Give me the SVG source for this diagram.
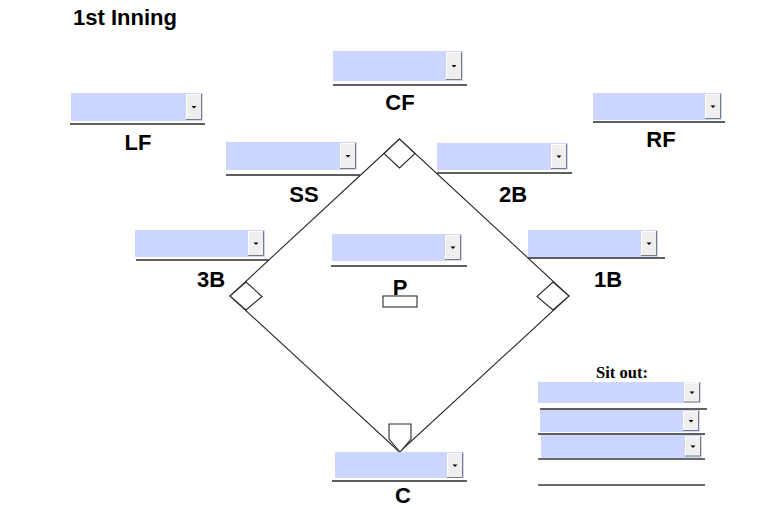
<svg xmlns="http://www.w3.org/2000/svg" xmlns:xlink="http://www.w3.org/1999/xlink" width="777" height="509" viewBox="0 0 777 509">
<style>
.box{fill:#ccd6ff}
.btn{fill:#efefef}
.edge{fill:none;stroke:#7a7a7a;stroke-width:1}
.hi{fill:none;stroke:#ffffff;stroke-width:1}
.arr{fill:#000}
.ul{stroke:#2a2a2a;stroke-width:1.6}
.ul2{stroke:#6a6a6a;stroke-width:1.8}
.lbl{font-family:"Liberation Sans",Arial,sans-serif;font-weight:bold;font-size:22px;fill:#000;text-anchor:middle}
.title{font-family:"Liberation Sans",Arial,sans-serif;font-weight:bold;font-size:22px;fill:#000}
.sit{font-family:"Liberation Serif","Times New Roman",serif;font-weight:bold;font-size:16.5px;fill:#000;text-anchor:middle}
.line{fill:none;stroke:#2a2a2a;stroke-width:1.1}
.base{fill:#fff;stroke:#2a2a2a;stroke-width:1.1}
</style>
<defs>
<g id="b28"><rect class="btn" width="16" height="28"/><path class="hi" d="M0.5 27V0.5H15"/><path class="edge" d="M15.5 0V27.5H0"/><path class="arr" d="M5.5 13h5l-2.5 2.5z"/></g>
<g id="b26"><rect class="btn" width="16" height="26"/><path class="hi" d="M0.5 25V0.5H15"/><path class="edge" d="M15.5 0V25.5H0"/><path class="arr" d="M5.5 12h5l-2.5 2.5z"/></g>
<g id="b25"><rect class="btn" width="16" height="25"/><path class="hi" d="M0.5 24V0.5H15"/><path class="edge" d="M15.5 0V24.5H0"/><path class="arr" d="M5.5 11.5h5l-2.5 2.5z"/></g>
<g id="b20"><rect class="btn" width="16" height="20"/><path class="hi" d="M0.5 19V0.5H15"/><path class="edge" d="M15.5 0V19.5H0"/><path class="arr" d="M5.5 9h5l-2.5 2.5z"/></g>
</defs>
<rect width="777" height="509" fill="#fff"/>
<text class="title" x="73" y="25">1st Inning</text>

<g id="connectors">
<path class="line" d="M399.5 139L230 296L399.5 452L569 296Z"/>
</g>

<g id="base-2B"><path class="base" d="M399.5 139L384 153.5L399.5 168L415 153.5Z"/></g>
<g id="base-3B"><path class="base" d="M230 296L246 282L262 296.5L246 310Z"/></g>
<g id="base-1B"><path class="base" d="M569 296L553 282L537 296.5L553 310Z"/></g>
<g id="home"><path class="base" d="M400 452L389 439V424H411V439Z"/></g>
<g id="rubber"><rect class="base" x="383" y="296" width="34" height="11"/></g>

<g id="LF">
<rect class="box" x="71" y="93" width="132" height="28"/>
<use xlink:href="#b26" x="186" y="94"/>
<line class="ul" x1="70" y1="124" x2="205" y2="124"/>
<text class="lbl" x="138" y="150">LF</text>
</g>
<g id="CF">
<rect class="box" x="333" y="51" width="130" height="30"/>
<use xlink:href="#b28" x="446" y="52"/>
<line class="ul" x1="333" y1="85" x2="467" y2="85"/>
<text class="lbl" x="400" y="110">CF</text>
</g>
<g id="RF">
<rect class="box" x="593" y="93" width="129" height="27"/>
<use xlink:href="#b25" x="705" y="94"/>
<line class="ul" x1="593" y1="122" x2="725" y2="122"/>
<text class="lbl" x="661" y="147">RF</text>
</g>
<g id="SS">
<rect class="box" x="226" y="142" width="131" height="28"/>
<use xlink:href="#b26" x="340" y="143"/>
<line class="ul" x1="226" y1="175" x2="360" y2="175"/>
<text class="lbl" x="304" y="202">SS</text>
</g>
<g id="2B">
<rect class="box" x="437" y="143" width="131" height="27"/>
<use xlink:href="#b25" x="551" y="144"/>
<line class="ul" x1="437" y1="173" x2="572" y2="173"/>
<text class="lbl" x="513" y="202">2B</text>
</g>
<g id="3B">
<rect class="box" x="135" y="230" width="130" height="27"/>
<use xlink:href="#b25" x="248" y="231"/>
<line class="ul" x1="136" y1="260" x2="269" y2="260"/>
<text class="lbl" x="211" y="287">3B</text>
</g>
<g id="P">
<rect class="box" x="332" y="234" width="130" height="27"/>
<use xlink:href="#b25" x="445" y="235"/>
<line class="ul" x1="331" y1="266" x2="467" y2="266"/>
<text class="lbl" x="400" y="295">P</text>
</g>
<g id="1B">
<rect class="box" x="528" y="230" width="130" height="27"/>
<use xlink:href="#b25" x="641" y="231"/>
<line class="ul" x1="528" y1="258" x2="665" y2="258"/>
<text class="lbl" x="608" y="287">1B</text>
</g>
<g id="C">
<rect class="box" x="335" y="452" width="129" height="26"/>
<use xlink:href="#b25" x="447" y="453"/>
<line class="ul" x1="332" y1="481" x2="467" y2="481"/>
<text class="lbl" x="403" y="503">C</text>
</g>
<g id="sit-out">
<text class="sit" x="622" y="378">Sit out:</text>
<rect class="box" x="538" y="382" width="163" height="21"/>
<use xlink:href="#b20" x="684" y="382.5"/>
<line class="ul" x1="540" y1="409" x2="707" y2="409"/>
<rect class="box" x="540" y="410" width="160" height="22"/>
<use xlink:href="#b20" x="683" y="411"/>
<line class="ul" x1="538" y1="434" x2="705" y2="434"/>
<rect class="box" x="541" y="435" width="161" height="23"/>
<use xlink:href="#b20" x="685" y="436.5"/>
<line class="ul2" x1="538" y1="459" x2="705" y2="459"/>
<line class="ul2" x1="538" y1="485" x2="705" y2="485"/>
</g>
</svg>
